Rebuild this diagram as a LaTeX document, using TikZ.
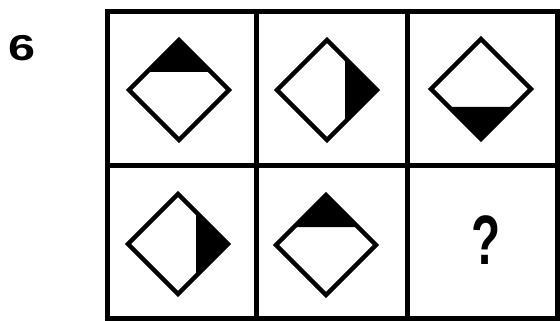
\documentclass[tikz,border=0pt]{standalone}
\usepackage{fontspec}
\setmainfont{Liberation Sans}
\definecolor{PuzzleInk}{RGB}{0, 0, 0}
\definecolor{PuzzlePaper}{RGB}{255, 255, 255}
\usetikzlibrary{calc}

\begin{document}
\begin{tikzpicture}[x=1pt, y=-1pt,
    gridline/.style={draw=PuzzleInk, line width=5pt, line cap=rect},
    diamondline/.style={draw=PuzzleInk, line width=4.5pt, line join=miter},
    wedge/.style={fill=PuzzleInk}]
  \fill[PuzzlePaper] (0,0) rectangle (560,321);
  \useasboundingbox (0,0) rectangle (560,321);

  % grid 3 x 2
  \draw[gridline] (107.5,12) rectangle (557.5,318);
  \draw[gridline] (256.5,12) -- (256.5,318);
  \draw[gridline] (407,12) -- (407,318);
  \draw[gridline] (107.5,165) -- (557.5,165);

  % diamonds: centre x / centre y / side of the black corner
  \foreach \cx/\cy/\ang in {179/90/0, 327/90/-90, 481/89/180, 178/244/-90, 326/245/0}{
    \begin{scope}[shift={(\cx,\cy)}, rotate=\ang]
      \fill[wedge] (0,-50) -- (-32,-18) -- (32,-18) -- cycle;
      \draw[diamondline] (0,-50) -- (50,0) -- (0,50) -- (-50,0) -- cycle;
    \end{scope}
  }

  \node[font=\bfseries\fontsize{36}{36}\selectfont, xscale=1.35, inner sep=0pt] (number) at (22,48) {6};
  \node[font=\bfseries\fontsize{70}{70}\selectfont, xscale=0.68, inner sep=0pt, text=PuzzleInk] (missing) at (486,240) {?};
\end{tikzpicture}
\end{document}
